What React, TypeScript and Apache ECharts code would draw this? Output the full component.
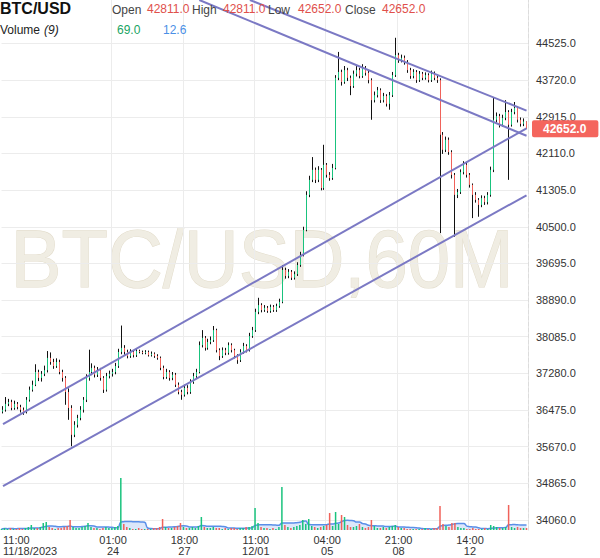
import React, { useEffect, useRef } from "react";
import * as echarts from "echarts";

const symbolName = "BTC/USD";
const watermarkText = "BTC/USD,60M";
const firstOpen = 36440;

const closes = [
  36480, 36610, 36650, 36520, 36610, 36540, 36480, 36430, 36700, 36920,
  37030, 37310, 37180, 37270, 37350, 37620, 37530, 37440, 37530, 37310,
  37180, 36870, 36520, 35930, 36150, 36300, 36480, 36700, 37180, 37310,
  37400, 37250, 37350, 37180, 36920, 37220, 37270, 37310, 37440, 37750,
  37840, 37750, 37660, 37750, 37680, 37770, 37750, 37730, 37750, 37680,
  37710, 37660, 37620, 37400, 37200, 37310, 37180, 37250, 37030, 36870,
  36810, 36960, 36870, 37090, 37220, 37310, 37900, 38060, 37840, 37970,
  38010, 38230, 37790, 37660, 37790, 37730, 37900, 37790, 37660, 37570,
  37750, 37880, 37790, 38100, 38230, 38630, 38780, 38670, 38720, 38650,
  38740, 38670, 38760, 38850, 39550, 39420, 39510, 39380, 39460, 39660,
  39880, 40430, 41200, 41530, 41750, 41530, 41750, 41350, 41860, 41640,
  41570, 41790, 43770, 43900, 43680, 43940, 43770, 43590, 43860, 43940,
  43810, 43990, 43880, 43720, 43280, 43390, 43500, 43280, 43370, 43200,
  43390, 43830, 44270, 44160, 44210, 44120, 43940, 43810, 43900, 43720,
  43860, 43770, 43830, 43720, 43860, 43770, 43720, 42520, 42190, 42410,
  42140, 41640, 41200, 41260, 41700, 41860, 41640, 41420, 41200, 41090,
  40980, 41130, 41040, 41200, 41750, 42850, 42930, 42740, 42890, 43020,
  42740, 43020, 43110, 42850, 42760, 42811, 42652,
];

const highs = [
  36560, 36760, 36720, 36700, 36680, 36650, 36590, 36530, 36760, 36990,
  37120, 37480, 37360, 37330, 37450, 37770, 37740, 37600, 37610, 37580,
  37360, 37220, 36950, 36580, 36230, 36370, 36560, 36760, 37260, 37800,
  37500, 37450, 37420, 37400, 37220, 37290, 37340, 37380, 37510, 37820,
  38330, 37900, 37800, 37810, 37790, 37820, 37800, 37780, 37790, 37780,
  37760, 37740, 37700, 37650, 37450, 37380, 37350, 37310, 37290, 37080,
  36920, 37030, 37020, 37150, 37290, 37380, 37980, 38230, 38100, 38040,
  38090, 38320, 38260, 37830, 37850, 37840, 37960, 37940, 37820, 37700,
  37810, 37950, 37920, 38170, 38300, 38700, 38940, 38820, 38780, 38760,
  38790, 38780, 38810, 38920, 39660, 39600, 39570, 39550, 39520, 39720,
  39950, 40500, 41280, 41620, 42030, 41800, 41830, 41790, 42300, 41900,
  41700, 41880, 43830, 44340, 43950, 44030, 43990, 43820, 43930, 44030,
  43990, 44070, 44030, 43920, 43760, 43470, 43570, 43540, 43440, 43410,
  43460, 43900, 44650, 44320, 44280, 44260, 44160, 43990, 43960, 43940,
  43920, 43900, 43890, 43870, 43930, 43910, 43810, 43760, 42580, 42480,
  42460, 42180, 41680, 41330, 41760, 41940, 41900, 41680, 41450, 41260,
  41130, 41190, 41180, 41260, 41820, 43350, 43010, 42980, 42960, 43280,
  43060, 43090, 43240, 43150, 42900, 42880, 42811,
];

const lows = [
  36400, 36440, 36560, 36470, 36480, 36490, 36420, 36370, 36400, 36660,
  36880, 37000, 37110, 37100, 37220, 37300, 37470, 37380, 37400, 37260,
  37100, 36590, 36260, 35680, 35880, 36090, 36250, 36420, 36650, 37120,
  37240, 37190, 37200, 37120, 36850, 36880, 37170, 37210, 37260, 37400,
  37700, 37690, 37610, 37620, 37630, 37640, 37720, 37700, 37700, 37650,
  37650, 37620, 37580, 37350, 37150, 37160, 37120, 37130, 36980, 36820,
  36700, 36770, 36820, 36830, 37050, 37180, 37280, 37850, 37780, 37800,
  37920, 37970, 37740, 37570, 37620, 37680, 37690, 37740, 37610, 37490,
  37530, 37710, 37740, 37760, 38060, 38190, 38580, 38620, 38630, 38610,
  38610, 38630, 38630, 38720, 38820, 39360, 39370, 39330, 39340, 39420,
  39620, 39850, 40400, 41150, 41480, 41460, 41480, 41300, 41310, 41580,
  41510, 41530, 41760, 43720, 43600, 43640, 43700, 43390, 43550, 43800,
  43760, 43770, 43820, 43650, 42850, 43230, 43340, 43220, 43230, 43140,
  43070, 43350, 43790, 44100, 44110, 44060, 43880, 43750, 43760, 43660,
  43680, 43720, 43730, 43670, 43680, 43720, 43660, 40360, 42100, 42140,
  42080, 41560, 40280, 41130, 41220, 41650, 41580, 41360, 40690, 41030,
  40720, 40930, 40980, 40990, 41160, 41700, 42790, 42680, 42700, 42840,
  41530, 42700, 42970, 42790, 42700, 42710, 42652,
];

const volumes = [
  1, 2, 1, 2, 1, 1, 2, 1, 2, 3,
  5, 2, 2, 3, 7, 8, 3, 2, 1, 2,
  2, 3, 4, 10, 3, 2, 2, 3, 4, 7,
  3, 2, 2, 1, 2, 3, 2, 2, 3, 4,
  52, 6, 3, 2, 1, 1, 2, 1, 1, 1,
  1, 2, 2, 3, 11, 3, 2, 2, 3, 4,
  7, 3, 2, 2, 3, 2, 4, 13, 3, 2,
  2, 3, 2, 2, 1, 2, 1, 2, 2, 1,
  2, 2, 3, 3, 4, 22, 7, 3, 2, 2,
  1, 2, 1, 3, 43, 5, 3, 2, 3, 4,
  5, 10, 6, 11, 4, 3, 2, 3, 4, 5,
  17, 4, 18, 6, 15, 13, 5, 3, 3, 4,
  6, 3, 2, 3, 10, 4, 2, 2, 3, 2,
  3, 4, 5, 3, 2, 2, 1, 1, 1, 1,
  1, 1, 2, 1, 1, 2, 2, 24, 6, 4,
  3, 7, 7, 3, 2, 2, 1, 1, 2, 1,
  1, 1, 2, 1, 5, 4, 3, 2, 2, 3,
  25, 3, 2, 3, 2, 2, 2,
];

const lastVolume = 69.0;
const volumeMAValue = 12.6;
const volumeMAPeriod = 9;

const yTickValues = [
  34060, 34865, 35670, 36475, 37280, 38085, 38890,
  39695, 40500, 41305, 42110, 42915, 43720, 44525,
];
const xTickIndex = [0, 37, 61, 85, 109, 133, 157];
const xTickLabels = [
  "11:00\n11/18/2023", "01:00\n24", "18:00\n27", "11:00\n12/01",
  "04:00\n05", "21:00\n08", "14:00\n12",
];

// [startIndex, startPrice, endIndex, endPrice]
const trendLines = [
  [83.3, 45480, 176, 43051],
  [66.1, 45480, 176, 42498],
  [0, 36164, 176, 42662],
  [0, 34802, 176, 41191],
];

const priceMin = 33840;
const priceMax = 45480;

const FONT = "'Liberation Sans', Arial, Helvetica, sans-serif";
const UP = "#19c37d";
const DOWN = "#f0625a";
const TREND = "#7b79c4";

export default function App() {
  const ref = useRef<HTMLDivElement>(null);
  useEffect(() => {
    document.body.style.margin = "0";
    const chart = echarts.init(ref.current!, null, { renderer: "svg" });
    const n = closes.length;
    const opens = closes.map((_, i) => (i === 0 ? firstOpen : closes[i - 1]));
    const categories = closes.map((_, i) => String(i));
    const wickData = closes.map((_, i) => [lows[i], highs[i], lows[i], highs[i]]);
    const bodyData = closes.map((c, i) => [
      opens[i], c, Math.min(opens[i], c), Math.max(opens[i], c),
    ]);
    const volData = volumes.map((v, i) => ({
      value: v,
      itemStyle: { color: closes[i] >= opens[i] ? UP : DOWN },
    }));
    const volMA = volumes.map((_, i) => {
      const s = volumes.slice(Math.max(0, i - volumeMAPeriod + 1), i + 1);
      return +(s.reduce((a, b) => a + b, 0) / s.length).toFixed(2);
    });
    const last = n - 1;
    const hdr = (text: string, x: number, y: number, fill: string, extra: any = {}) => ({
      type: "text",
      x,
      y,
      z: 100,
      silent: true,
      style: {
        text,
        fill,
        fontFamily: FONT,
        fontSize: 12,
        verticalAlign: "middle",
        align: "left",
        ...extra,
      },
    });
    const option: any = {
      animation: false,
      grid: [
        { left: 0, right: 72, top: 0, bottom: 28, containLabel: false },
        { left: 0, right: 72, top: 430, bottom: 28, containLabel: false },
      ],
      xAxis: [
        {
          type: "category",
          data: categories,
          boundaryGap: true,
          axisLine: { show: false },
          axisTick: { show: false },
          axisLabel: {
            interval: (i: number) => xTickIndex.includes(i),
            formatter: (_v: string, i: number) => xTickLabels[xTickIndex.indexOf(i)] ?? "",
            alignMinLabel: "left",
            fontFamily: FONT,
            fontSize: 11,
            lineHeight: 11,
            color: "#333",
            margin: 4,
          },
          splitLine: {
            show: true,
            interval: (i: number) => i > 0 && xTickIndex.includes(i),
            lineStyle: { color: "#ececec", width: 1 },
          },
        },
        {
          type: "category",
          gridIndex: 1,
          data: categories,
          boundaryGap: true,
          show: false,
        },
      ],
      yAxis: [
        {
          type: "value",
          position: "right",
          min: priceMin,
          max: priceMax,
          axisLine: { show: true, lineStyle: { color: "#dcdcdc", type: "dashed" } },
          axisTick: { show: false, customValues: yTickValues },
          axisLabel: {
            customValues: yTickValues,
            formatter: (v: number) => v.toFixed(1),
            fontFamily: FONT,
            fontSize: 11,
            color: "#333",
            margin: 8,
          },
          splitLine: { show: true, lineStyle: { color: "#ececec", width: 1 } },
        },
        { type: "value", gridIndex: 1, min: 0, max: 100, show: false },
      ],
      graphic: [
        {
          type: "text",
          x: 262,
          y: 259,
          z: -10,
          silent: true,
          scaleY: 1.07,
          style: {
            text: watermarkText,
            fontFamily: FONT,
            fontSize: 76,
            fill: "#f0ede3",
            stroke: "#e2dccb",
            lineWidth: 1,
            align: "center",
            verticalAlign: "middle",
          },
        },
        hdr(symbolName, 0, 8, "#111", { fontSize: 16, fontWeight: "bold" }),
        hdr("Open", 112, 10, "#444"),
        hdr(opens[last].toFixed(1), 147, 9, "#e0504b"),
        hdr("High", 192, 10, "#444"),
        hdr(highs[last].toFixed(1), 223, 9, "#e0504b"),
        hdr("Low", 268, 10, "#444"),
        hdr(lows[last].toFixed(1), 298, 9, "#e0504b"),
        hdr("Close", 345, 10, "#444"),
        hdr(closes[last].toFixed(1), 382, 9, "#e0504b"),
        hdr("Volume", 0, 30, "#222"),
        hdr("(9)", 44, 30, "#222", { fontStyle: "italic" }),
        hdr(lastVolume.toFixed(1), 117, 30, "#1aa463"),
        hdr(volumeMAValue.toFixed(1), 163, 30, "#4a8fe6"),
      ],
      series: [
        {
          name: "wick",
          type: "candlestick",
          xAxisIndex: 0,
          yAxisIndex: 0,
          data: wickData,
          barWidth: 0.4,
          z: 2,
          silent: true,
          itemStyle: {
            color: "#111",
            color0: "#111",
            borderColor: "#111",
            borderColor0: "#111",
            borderWidth: 1,
          },
        },
        {
          name: "price",
          type: "candlestick",
          xAxisIndex: 0,
          yAxisIndex: 0,
          data: bodyData,
          barWidth: 1,
          z: 3,
          silent: true,
          itemStyle: {
            color: UP,
            color0: DOWN,
            borderColor: UP,
            borderColor0: DOWN,
            borderWidth: 1,
          },
          markLine: {
            silent: true,
            symbol: "none",
            animation: false,
            lineStyle: { color: TREND, width: 2, type: "solid" },
            label: { show: false },
            data: [
              ...trendLines.map(([x0, p0, x1, p1]) => [
                { coord: [x0, p0] },
                { coord: [x1, p1] },
              ]),
              {
                yAxis: closes[last],
                lineStyle: { color: "rgba(0,0,0,0)", width: 0 },
                label: {
                  show: true,
                  position: "end",
                  distance: 4,
                  opacity: 1,
                  formatter: closes[last].toFixed(1),
                  backgroundColor: "#f4655d",
                  color: "#fff",
                  fontFamily: FONT,
                  fontWeight: "bold",
                  fontSize: 12,
                  padding: [3, 12, 2, 11],
                  borderRadius: 2,
                },
              },
            ],
          },
        },
        {
          name: "volume",
          type: "bar",
          xAxisIndex: 1,
          yAxisIndex: 1,
          data: volData,
          barWidth: 1.5,
          silent: true,
          z: 3,
        },
        {
          name: "volumeMA",
          type: "line",
          xAxisIndex: 1,
          yAxisIndex: 1,
          data: volMA,
          smooth: true,
          showSymbol: false,
          silent: true,
          z: 2,
          lineStyle: { color: "#5a8fe8", width: 1.5 },
          areaStyle: { color: "rgba(110,155,235,0.35)" },
        },
      ],
    };
    chart.setOption(option);
    return () => chart.dispose();
  }, []);
  return (
    <div
      ref={ref}
      style={{ position: "absolute", left: 0, top: 0, width: 600, height: 558 }}
    />
  );
}
